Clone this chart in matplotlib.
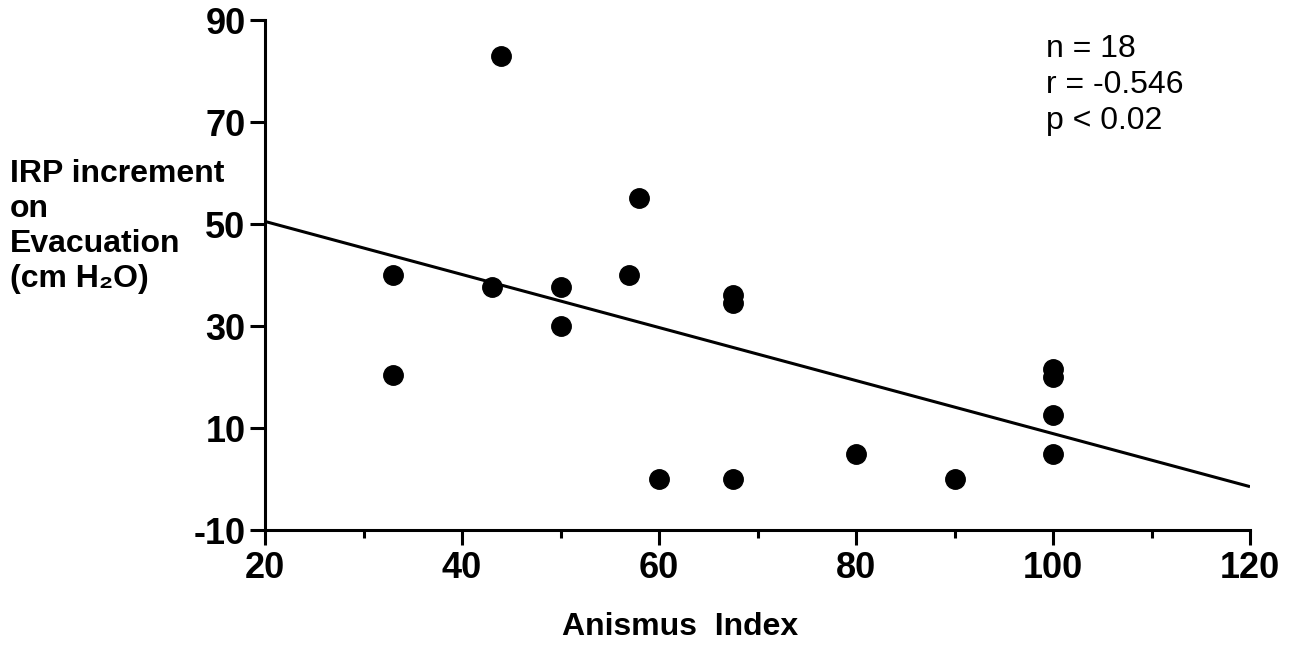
import numpy as np
import matplotlib.pyplot as plt
from matplotlib.ticker import MultipleLocator

# values
anismus_index = [33, 33, 44, 43, 50, 50, 57, 58, 67.5, 67.5, 60, 67.5, 80, 90, 100, 100, 100, 100]
irp_increment = [40, 20.3, 83, 37.6, 37.6, 30, 40, 55, 36, 34.5, 0, 0, 5, 0, 21.5, 20, 12.6, 5]
fit_x = [20, 120]
fit_y = [50.5, -1.5]
ylabel_lines = ["IRP increment", "on", "Evacuation", "(cm H\u2082O)"]
stats_text = "n = 18\nr = -0.546\np < 0.02"

plt.rcParams['font.family'] = ['Liberation Sans', 'DejaVu Sans']
plt.rcParams['axes.unicode_minus'] = False

fig = plt.figure(figsize=(12.95, 6.45), dpi=100)
ax = fig.add_axes([265 / 1295, 1 - 530 / 645, 985 / 1295, 510 / 645])

ax.plot(anismus_index, irp_increment, 'o', color='black', markersize=14, zorder=3)
ax.plot(fit_x, fit_y, '-', color='black', linewidth=2.2, solid_capstyle='butt')

ax.set_xlim(20, 120)
ax.set_ylim(-10, 90)
ax.xaxis.set_major_locator(MultipleLocator(20))
ax.xaxis.set_minor_locator(MultipleLocator(10))
ax.set_yticks(np.arange(-10, 91, 20))

for side in ['top', 'right']:
    ax.spines[side].set_visible(False)
for side in ['left', 'bottom']:
    ax.spines[side].set_linewidth(2.2)

ax.tick_params(axis='y', direction='out', length=11, width=2.2, pad=3,
               labelsize=26)
ax.tick_params(axis='x', which='major', direction='out', length=11, width=2.2,
               pad=4, labelsize=26)
ax.tick_params(axis='x', which='minor', direction='out', length=6, width=2.2)
for lbl in ax.get_xticklabels() + ax.get_yticklabels():
    lbl.set_fontweight('bold')

# y label is a left-aligned block of lines beside the axis
for i, line in enumerate(ylabel_lines):
    fig.text(10 / 1295, 1 - (182 + 35 * i) / 645, line, ha='left', va='baseline',
             fontsize=23, fontweight='bold')
fig.text(680 / 1295, 1 - 627 / 645, "Anismus  Index",
         ha='center', va='center', fontsize=23, fontweight='bold')
fig.text(1046 / 1295, 1 - 34 / 645, stats_text, ha='left', va='top',
         fontsize=23, linespacing=1.25)

fig.savefig('out.png', dpi=100, facecolor='white')
